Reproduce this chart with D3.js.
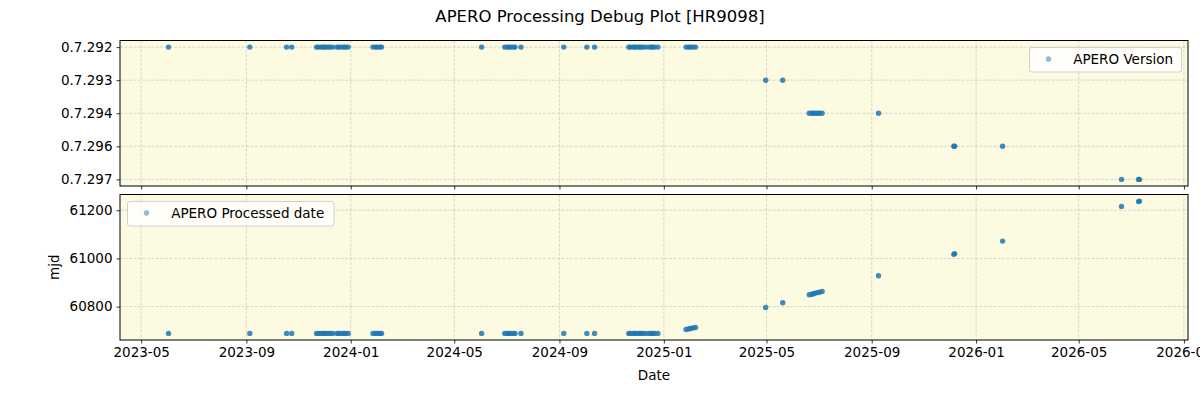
<!DOCTYPE html>
<html>
<head>
<meta charset="utf-8">
<script src="https://cdn.jsdelivr.net/npm/d3@7"></script>
<style>
  body { margin: 0; background: #fff; }
  svg { display: block; font-family: "DejaVu Sans", sans-serif; }
</style>
</head>
<body>
<svg id="chart" width="1200" height="400"></svg>
<script>
// ---- data ----
const obsDates = [
  "2023-06-02","2023-09-05","2023-10-18","2023-10-24",
  "2023-11-22","2023-11-24","2023-11-27","2023-11-29","2023-12-01","2023-12-03","2023-12-06","2023-12-08","2023-12-11",
  "2023-12-16","2023-12-18","2023-12-21","2023-12-24","2023-12-26","2023-12-29",
  "2024-01-27","2024-01-30","2024-02-01","2024-02-04","2024-02-06",
  "2024-06-02",
  "2024-06-29","2024-07-02","2024-07-04","2024-07-06","2024-07-09","2024-07-11",
  "2024-07-18","2024-09-06","2024-10-03","2024-10-12",
  "2024-11-21","2024-11-23","2024-11-26","2024-11-28","2024-11-30","2024-12-03","2024-12-05","2024-12-07","2024-12-10",
  "2024-12-14","2024-12-17","2024-12-19","2024-12-21","2024-12-25",
  "2025-01-27","2025-01-30","2025-02-01","2025-02-04","2025-02-07",
  "2025-04-30","2025-05-20",
  "2025-06-20","2025-06-23","2025-06-25","2025-06-27","2025-06-30","2025-07-02","2025-07-05",
  "2025-09-09","2025-12-06","2025-12-07","2026-02-01","2026-06-20","2026-07-10","2026-07-11"
];
const versions = [
  "0.7.292","0.7.292","0.7.292","0.7.292",
  "0.7.292","0.7.292","0.7.292","0.7.292","0.7.292","0.7.292","0.7.292","0.7.292","0.7.292",
  "0.7.292","0.7.292","0.7.292","0.7.292","0.7.292","0.7.292",
  "0.7.292","0.7.292","0.7.292","0.7.292","0.7.292",
  "0.7.292",
  "0.7.292","0.7.292","0.7.292","0.7.292","0.7.292","0.7.292",
  "0.7.292","0.7.292","0.7.292","0.7.292",
  "0.7.292","0.7.292","0.7.292","0.7.292","0.7.292","0.7.292","0.7.292","0.7.292","0.7.292",
  "0.7.292","0.7.292","0.7.292","0.7.292","0.7.292",
  "0.7.292","0.7.292","0.7.292","0.7.292","0.7.292",
  "0.7.293","0.7.293",
  "0.7.294","0.7.294","0.7.294","0.7.294","0.7.294","0.7.294","0.7.294",
  "0.7.294","0.7.296","0.7.296","0.7.296","0.7.297","0.7.297","0.7.297"
];
const processedMjd = [
  60688.7,60688.7,60688.7,60688.7,
  60688.7,60688.7,60688.7,60688.7,60688.7,60688.7,60688.7,60688.7,60688.7,
  60688.7,60688.7,60688.7,60688.7,60688.7,60688.7,
  60688.7,60688.7,60688.7,60688.7,60688.7,
  60688.7,
  60688.7,60688.7,60688.7,60688.7,60688.7,60688.7,
  60688.7,60688.7,60688.7,60688.7,
  60688.7,60688.7,60688.7,60688.7,60688.7,60688.7,60688.7,60688.7,60688.7,
  60688.7,60688.7,60688.7,60688.7,60688.7,
  60705,60707,60709,60711,60713,
  60796,60816,
  60849,60851,60853,60856,60858,60860,60863,
  60928,61017,61020,61072,61216,61236,61238
];
const versionCategories = ["0.7.292","0.7.293","0.7.294","0.7.296","0.7.297"];
const mjdTicks = [60800, 61000, 61200];
const title = "APERO Processing Debug Plot [HR9098]";

// ---- layout ----
const svg = d3.select("#chart");
const left = 120, right = 1188;
const top1 = 40.5, bot1 = 186;
const top2 = 194.5, bot2 = 340;
const blue = "#1f77b4";
const bg = "#fcfae1";

const parse = d3.utcParse("%Y-%m-%d");
const dates = obsDates.map(parse);
const [dMin, dMax] = d3.extent(dates);
const dPad = (dMax - dMin) * 0.05;
const x = d3.scaleUtc()
  .domain([new Date(+dMin - dPad), new Date(+dMax + dPad)])
  .range([left, right]);

const n = versionCategories.length - 1;
const yCat = d3.scaleLinear()
  .domain([-0.05 * n, n * 1.05])
  .range([top1, bot1]);
const catIndex = v => versionCategories.indexOf(v);

const [mMin, mMax] = d3.extent(processedMjd);
const mPad = (mMax - mMin) * 0.05;
const y2 = d3.scaleLinear()
  .domain([mMin - mPad, mMax + mPad])
  .range([bot2, top2]);

const xTicks = d3.utcMonth.every(4).range(new Date(Date.UTC(2023,4,1)), new Date(Date.UTC(2026,9,2)));
const fmt = d3.utcFormat("%Y-%m");

function panel(y0, y1) {
  svg.append("rect").attr("x", left).attr("y", y0).attr("width", right-left).attr("height", y1-y0).attr("fill", bg);
}
panel(top1, bot1);
panel(top2, bot2);

function grid(y0, y1, yVals) {
  const g = svg.append("g").attr("stroke", "#b0b0b0").attr("stroke-opacity", 0.6)
    .attr("stroke-width", 0.8).attr("stroke-dasharray", "3,1.5");
  g.selectAll("line.v").data(xTicks).join("line")
    .attr("x1", d => x(d)).attr("x2", d => x(d)).attr("y1", y0).attr("y2", y1);
  g.selectAll("line.h").data(yVals).join("line")
    .attr("x1", left).attr("x2", right).attr("y1", d => d).attr("y2", d => d);
}
grid(top1, bot1, versionCategories.map(v => yCat(catIndex(v))));
grid(top2, bot2, mjdTicks.map(v => y2(v)));

// axes
function styleAxis(g) {
  g.selectAll(".domain").remove();
  g.selectAll("text").attr("font-size", "13.5px").attr("fill", "#000").attr("font-family", "DejaVu Sans, sans-serif");
  g.selectAll("line").attr("stroke", "#000").attr("stroke-width", 0.8);
}
svg.append("g").attr("transform", `translate(0,${bot1})`)
  .call(d3.axisBottom(x).tickValues(xTicks).tickSize(3.5).tickFormat(""))
  .call(styleAxis);
svg.append("g").attr("transform", `translate(0,${bot2})`)
  .call(d3.axisBottom(x).tickValues(xTicks).tickSize(3.5).tickPadding(4).tickFormat(fmt))
  .call(styleAxis);
svg.append("g").attr("transform", `translate(${left},0)`)
  .call(d3.axisLeft(d3.scalePoint().domain(versionCategories).range([yCat(0), yCat(n)]))
    .tickSize(3.5).tickPadding(4))
  .call(styleAxis);
svg.append("g").attr("transform", `translate(${left},0)`)
  .call(d3.axisLeft(y2).tickValues(mjdTicks).tickSize(3.5).tickPadding(4).tickFormat(d3.format("d")))
  .call(styleAxis);

// points
svg.append("g").selectAll("circle").data(dates).join("circle")
  .attr("cx", d => x(d)).attr("cy", (d, i) => yCat(catIndex(versions[i])))
  .attr("r", 2.7).attr("fill", blue).attr("fill-opacity", 0.85);
svg.append("g").selectAll("circle").data(dates).join("circle")
  .attr("cx", d => x(d)).attr("cy", (d, i) => y2(processedMjd[i]))
  .attr("r", 2.7).attr("fill", blue).attr("fill-opacity", 0.85);

// frames
[[top1, bot1], [top2, bot2]].forEach(([a, b]) => {
  svg.append("rect").attr("x", left).attr("y", a).attr("width", right-left).attr("height", b-a)
    .attr("fill", "none").attr("stroke", "#000").attr("stroke-width", 1);
});

// legends
function legend(x0, y0, w, label) {
  const g = svg.append("g");
  g.append("rect").attr("x", x0).attr("y", y0).attr("width", w).attr("height", 24.5).attr("rx", 2.5)
    .attr("fill", "#fff").attr("fill-opacity", 0.8).attr("stroke", "#d0d0d0").attr("stroke-width", 1);
  g.append("circle").attr("cx", x0 + 19).attr("cy", y0 + 11.5).attr("r", 2.7).attr("fill", blue).attr("fill-opacity", 0.5);
  g.append("text").attr("x", x0 + 43.7).attr("y", y0 + 16.5).attr("font-size", "13.5px").text(label);
}
legend(1029.5, 47.5, 152, "APERO Version");
legend(127.5, 201.5, 206.5, "APERO Processed date");

// labels
svg.append("text").attr("x", 600).attr("y", 22).attr("text-anchor", "middle").attr("font-size", "16.5px").text(title);
svg.append("text").attr("x", (left + right) / 2).attr("y", 380).attr("text-anchor", "middle").attr("font-size", "13.5px").text("Date");
svg.append("text").attr("transform", `translate(59,${(top2 + bot2) / 2}) rotate(-90)`).attr("text-anchor", "middle").attr("font-size", "13.5px").text("mjd");
</script>
</body>
</html>
